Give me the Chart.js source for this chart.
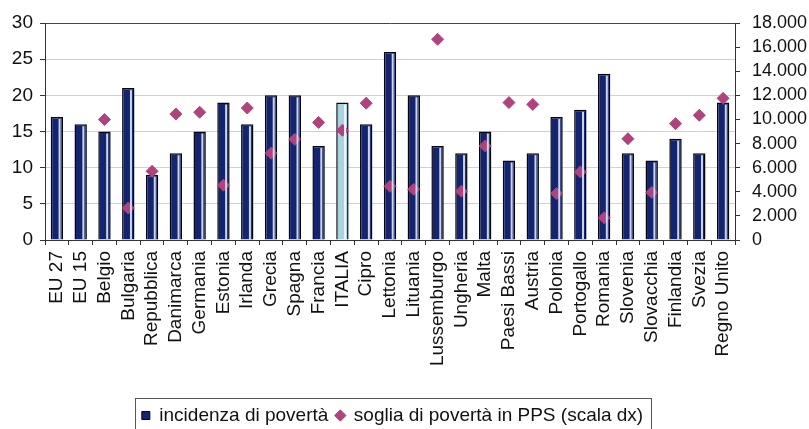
<!DOCTYPE html>
<html>
<head>
<meta charset="utf-8">
<script src="https://cdn.jsdelivr.net/npm/chart.js@4/dist/chart.umd.min.js"></script>
<style>
  html, body { margin: 0; padding: 0; background: #fff; }
  #wrap { width: 809px; height: 429px; }
</style>
</head>
<body>
<div id="wrap"><canvas id="grafico"></canvas></div>
<script>
// dati
var paesi = ["EU 27", "EU 15", "Belgio", "Bulgaria", "Repubblica", "Danimarca", "Germania", "Estonia",
  "Irlanda", "Grecia", "Spagna", "Francia", "ITALIA", "Cipro", "Lettonia", "Lituania", "Lussemburgo",
  "Ungheria", "Malta", "Paesi Bassi", "Austria", "Polonia", "Portogallo", "Romania", "Slovenia",
  "Slovacchia", "Finlandia", "Svezia", "Regno Unito"];
var incidenza = [17, 16, 15, 21, 9, 12, 15, 19, 16, 20, 20, 13, 19, 16, 26, 20, 13, 12, 15, 11, 12,
  17, 18, 23, 12, 11, 14, 12, 19];
var soglia = [null, null, 10000, 2650, 5700, 10450, 10600, 4550, 10950, 7200, 8350, 9750, 9100,
  11350, 4450, 4200, 16650, 4050, 7800, 11400, 11250, 3850, 5650, 1850, 8400, 3950, 9650, 10350, 11750];
var tickSx = [0, 5, 10, 15, 20, 25, 30];
var tickDx = [0, 2000, 4000, 6000, 8000, 10000, 12000, 14000, 16000, 18000];

var BLU = "#14246e";
var ITALIA_COL = "#a9d3df";
var ROSA = "#b0427e";
var FONT = "'Liberation Sans', Arial, sans-serif";
var SPOSTA_X = -12, SPOSTA_Y = 6;

/*riflesso chiaro sulle barre*/
var riflesso = {
  id: "riflesso",
  afterDatasetsDraw: function (chart) {
    var meta = chart.getDatasetMeta(0);
    var c = chart.ctx;
    c.save();
    meta.data.forEach(function (el, i) {
      var p = el.getProps(["x", "y", "base", "width"], true);
      var dx = p.x + p.width / 2;
      c.fillStyle = paesi[i] == "ITALIA" ? "#eef8fb" : "#c9d6f2";
      c.fillRect(dx - 4.5, p.y + 2, 2, p.base - p.y - 2);
    });
    c.restore();
  }
};

/*legenda spostata e cornice*/
var cornice = {
  id: "cornice",
  beforeDraw: function (chart) {
    var lg = chart.legend;
    if (!lg || lg._spostata) return;
    lg.left += SPOSTA_X; lg.right += SPOSTA_X;
    lg.top += SPOSTA_Y; lg.bottom += SPOSTA_Y;
    lg._spostata = true;
  },
  afterDraw: function (chart) {
    var lg = chart.legend;
    if (!lg || !lg.legendHitBoxes.length) return;
    var hb = lg.legendHitBoxes;
    var sx = hb[0].left + SPOSTA_X - 7;
    var dx = hb[hb.length - 1].left + hb[hb.length - 1].width + SPOSTA_X + 8;
    var c = chart.ctx;
    c.save();
    c.strokeStyle = "#555";
    c.lineWidth = 1;
    c.strokeRect(Math.round(sx) + 0.5, 398.5, Math.round(dx - sx), 40);
    c.restore();
  }
};

var ctx = document.getElementById("grafico");
var grafico = new Chart(ctx, {
  type: "bar",
  data: {
    labels: paesi,
    datasets: [{
      label: "incidenza di povertà",
      data: incidenza,
      backgroundColor: paesi.map(function (p) { return p == "ITALIA" ? ITALIA_COL : BLU; }),
      borderColor: "#05050f",
      borderWidth: 1.5,
      barPercentage: 0.52,
      categoryPercentage: 1,
      yAxisID: "y",
      order: 1
    }, {
      type: "line",
      label: "soglia di povertà in PPS (scala dx)",
      data: soglia,
      showLine: false,
      pointStyle: "rectRot",
      pointRadius: 6,
      pointBackgroundColor: ROSA,
      pointBorderColor: ROSA,
      backgroundColor: ROSA,
      borderColor: ROSA,
      yAxisID: "y1",
      order: 0
    }]
  },
  options: {
    responsive: true,
    maintainAspectRatio: false,
    animation: false,
    layout: { padding: { top: 23, left: 0, right: 0, bottom: 0 } },
    plugins: {
      tooltip: { enabled: false },
      legend: {
        position: "bottom",
        labels: {
          usePointStyle: true,
          boxWidth: 8,
          boxHeight: 8,
          padding: 8,
          color: "#111",
          font: { family: FONT, size: 19 },
          sort: function (a, b) { return a.datasetIndex - b.datasetIndex; },
          generateLabels: function (chart) {
            var items = Chart.defaults.plugins.legend.labels.generateLabels(chart);
            items.forEach(function (it) {
              if (it.datasetIndex == 0) {
                it.fillStyle = BLU; it.strokeStyle = "#05050f"; it.pointStyle = "rect"; it.lineWidth = 1;
              } else {
                it.fillStyle = ROSA; it.strokeStyle = ROSA; it.pointStyle = "rectRot"; it.lineWidth = 1;
              }
            });
            return items;
          }
        }
      }
    },
    scales: {
      x: {
        offset: true,
        grid: { offset: true, drawOnChartArea: false, tickLength: 5, tickColor: "#333" },
        border: { color: "#333" },
        ticks: {
          autoSkip: false, maxRotation: 90, minRotation: 90, color: "#111", padding: 6,
          font: { family: FONT, size: 19 }
        },
        afterFit: function (s) { s.height = 152; }
      },
      y: {
        position: "left",
        min: 0, max: 30,
        afterBuildTicks: function (s) { s.ticks = tickSx.map(function (v) { return { value: v }; }); },
        grid: {
          color: function (c) { return c.tick && c.tick.value == 30 ? "#444" : "rgba(205,130,140,0.45)"; },
          tickColor: "#333", tickLength: 5
        },
        border: { color: "#333" },
        ticks: { autoSkip: false, color: "#111", padding: 7, font: { family: FONT, size: 19 } },
        afterFit: function (s) { s.width = 45; }
      },
      y1: {
        position: "right",
        min: 0, max: 18000,
        afterBuildTicks: function (s) { s.ticks = tickDx.map(function (v) { return { value: v }; }); },
        grid: { drawOnChartArea: false, tickColor: "#333", tickLength: 5 },
        border: { color: "#333" },
        ticks: {
          autoSkip: false, color: "#111", padding: 12, font: { family: FONT, size: 18 },
          callback: function (v) { return v.toLocaleString("it-IT").replace(/,/g, "."); }
        },
        afterFit: function (s) { s.width = 74; }
      }
    }
  },
  plugins: [riflesso, cornice]
});
</script>
</body>
</html>
